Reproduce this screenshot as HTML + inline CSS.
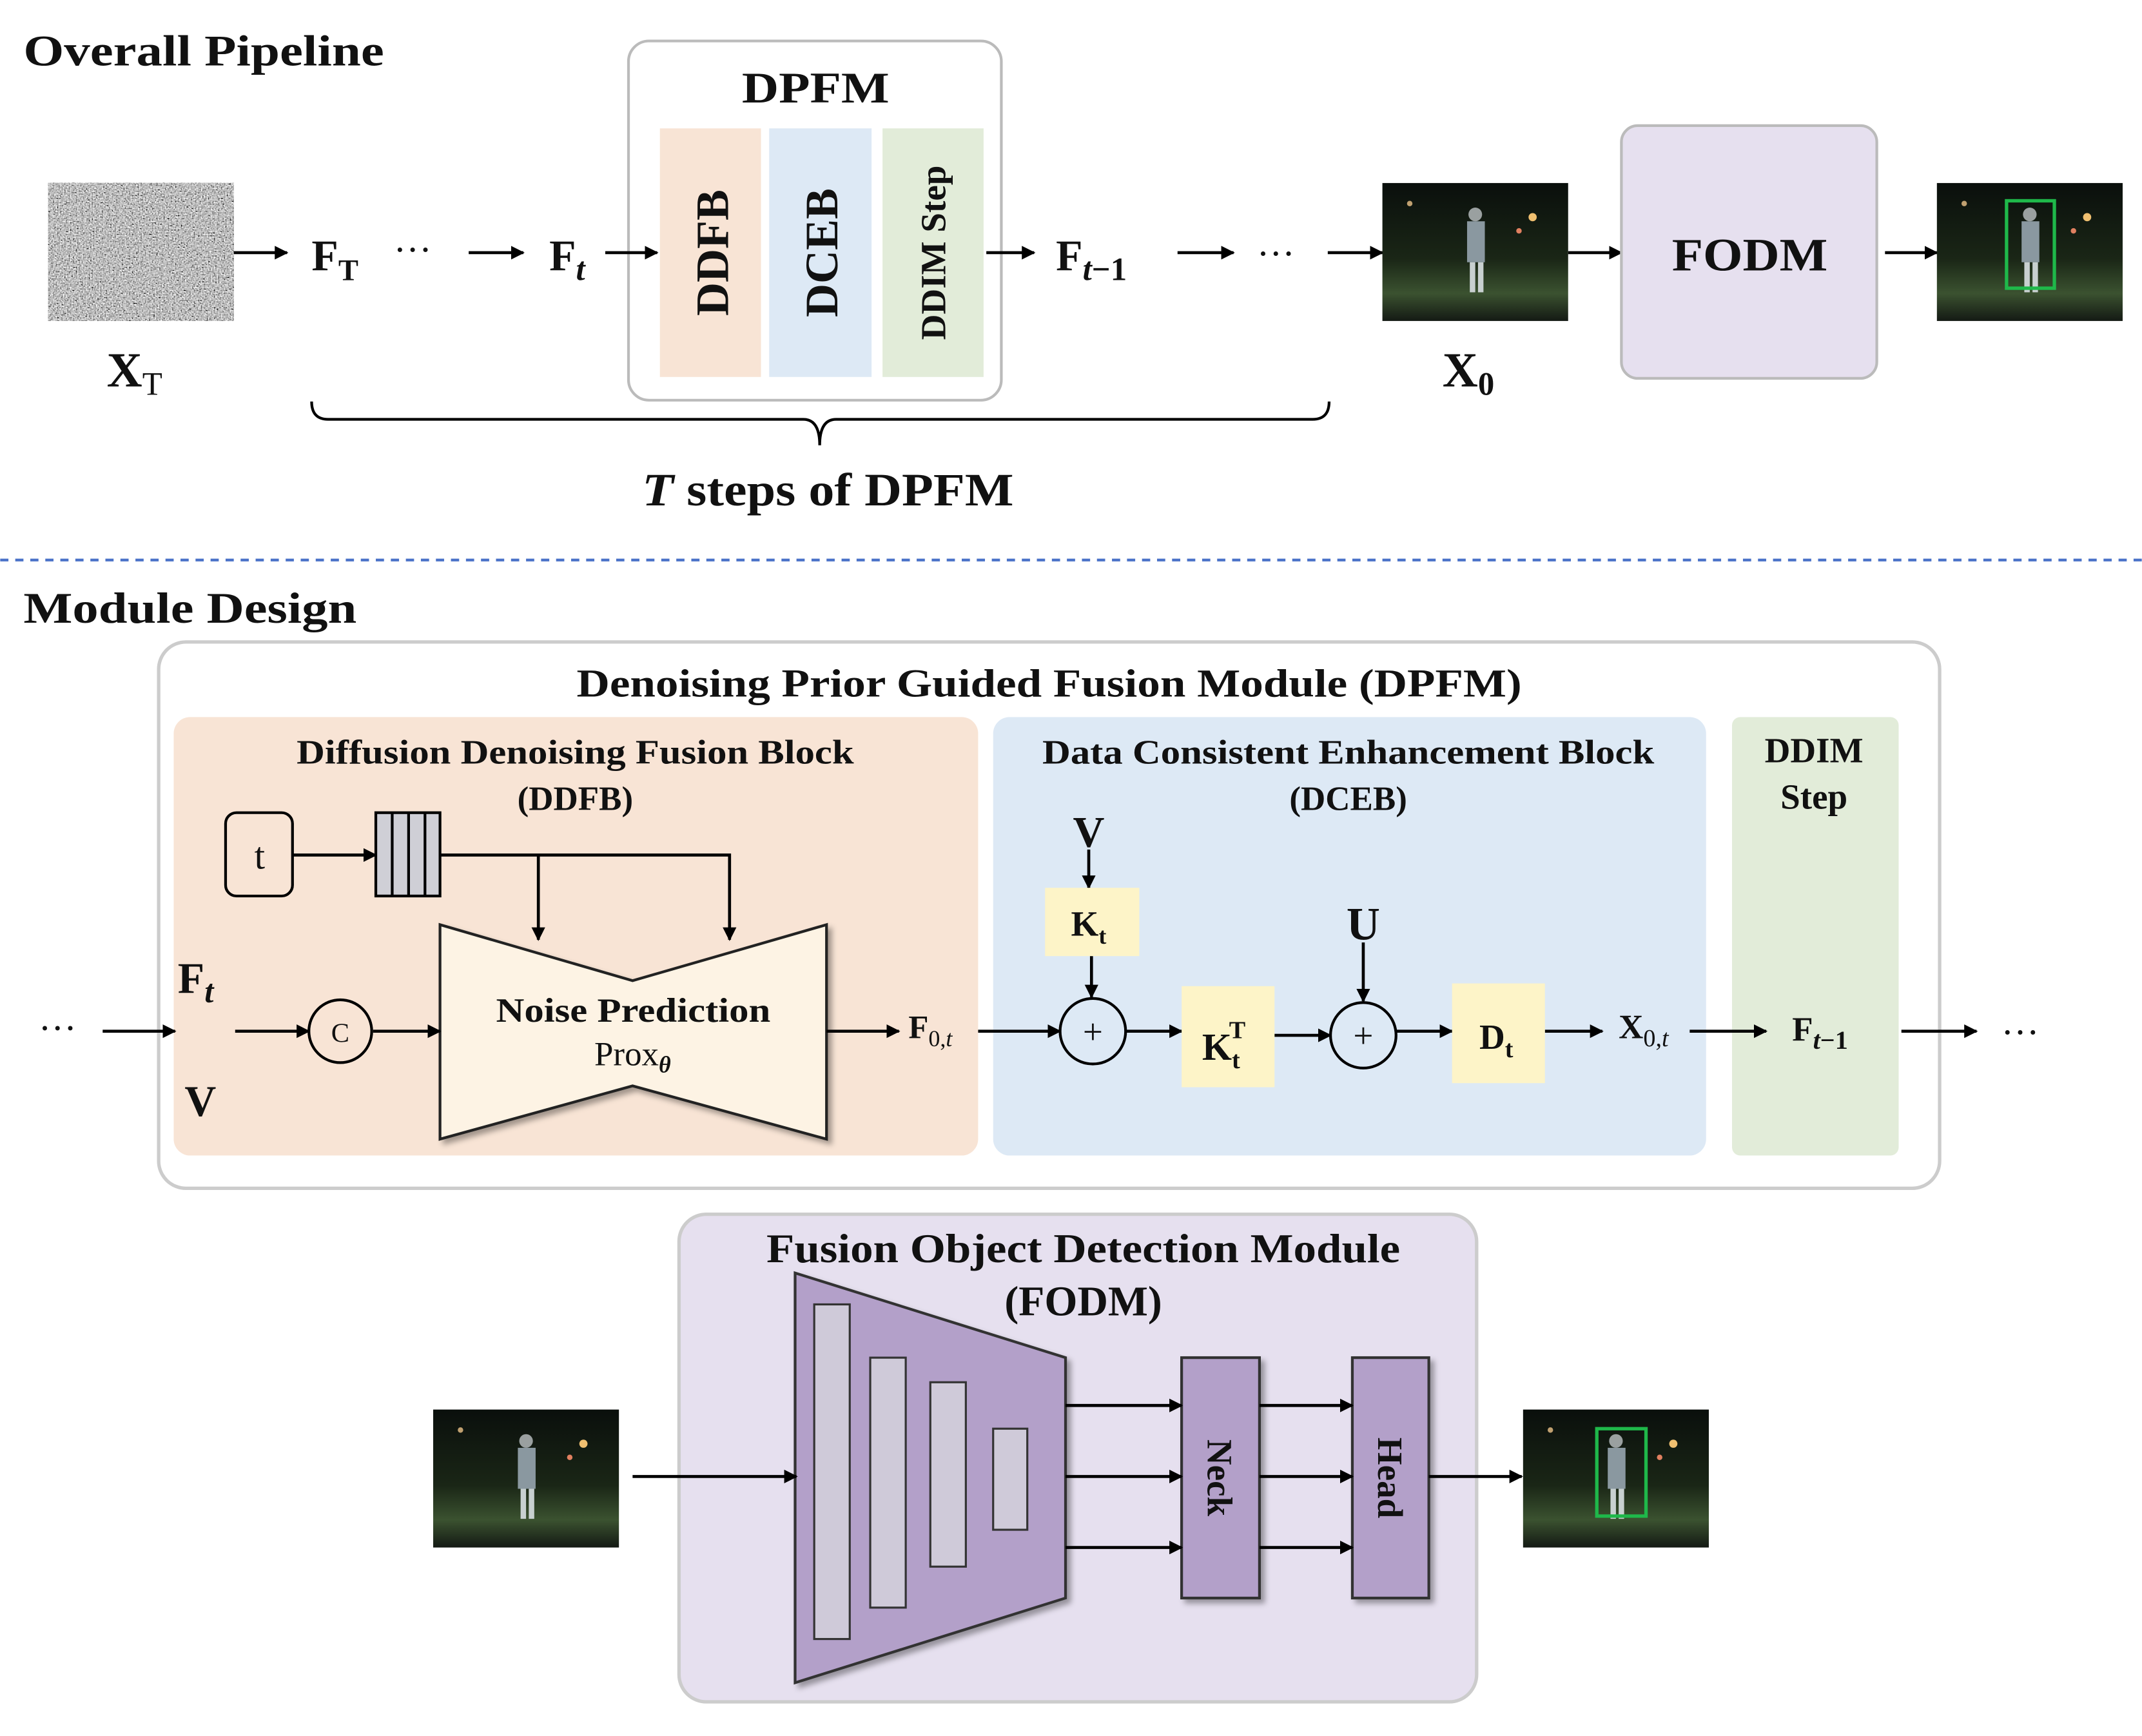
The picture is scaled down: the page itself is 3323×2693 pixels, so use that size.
<!DOCTYPE html>
<html><head><meta charset="utf-8"><style>
html,body{margin:0;padding:0;background:#fff;}
svg{display:block;}
text{font-family:"Liberation Serif",serif;fill:#111;}
.b{font-weight:bold;}
</style></head><body>
<svg width="3323" height="2693" viewBox="0 0 1568 1271" xmlns="http://www.w3.org/2000/svg">
<defs>
<marker id="ar" markerWidth="10" markerHeight="10" refX="9" refY="5" orient="auto" markerUnits="userSpaceOnUse">
<path d="M0,0 L10,5 L0,10 Z" fill="#000"/></marker>
<filter id="noise" x="0" y="0" width="100%" height="100%">
<feTurbulence type="fractalNoise" baseFrequency="0.95" numOctaves="1" seed="3"/>
<feColorMatrix type="matrix" values="0.9 0.9 0.9 0 -0.85 0.9 0.9 0.9 0 -0.85 0.9 0.9 0.9 0 -0.85 0 0 0 0 1"/>
</filter>
<linearGradient id="night" x1="0" y1="0" x2="0" y2="1">
<stop offset="0" stop-color="#0a0f0c"/><stop offset="0.55" stop-color="#1a2616"/><stop offset="0.8" stop-color="#3b5230"/><stop offset="1" stop-color="#141a14"/></linearGradient>
<filter id="sh" x="-10%" y="-10%" width="130%" height="130%"><feDropShadow dx="3" dy="3" stdDeviation="2" flood-color="#000" flood-opacity="0.35"/></filter>
<g id="nimg">
<rect width="136" height="101" fill="url(#night)"/>
<circle cx="110" cy="25" r="3" fill="#f0c070"/><circle cx="20" cy="15" r="2" fill="#c0a070"/><circle cx="100" cy="35" r="2" fill="#e08060"/>
<rect x="62" y="28" width="13" height="30" fill="#8a98a0"/><rect x="64" y="58" width="4" height="22" fill="#c8d0d0"/><rect x="70" y="58" width="4" height="22" fill="#c8d0d0"/>
<circle cx="68" cy="23" r="5" fill="#9aa0a0"/>
</g>
</defs>
<text x="17" y="48" class="b" font-size="32" textLength="264" lengthAdjust="spacingAndGlyphs">Overall Pipeline</text>
<rect x="35" y="134" width="136" height="101" filter="url(#noise)"/>
<text x="78" y="283" class="b" font-size="36">X<tspan font-size="24" font-weight="normal" dy="6">T</tspan></text>
<text x="228" y="198" class="b" font-size="32">F<tspan font-size="22" dy="7">T</tspan></text>
<text x="288" y="192" font-size="28">···</text>
<text x="402" y="198" class="b" font-size="32">F<tspan font-size="24" dy="7" font-style="italic">t</tspan></text>
<rect x="460" y="30" width="273" height="263" rx="15" fill="#fff" stroke="#bbb" stroke-width="2"/>
<text x="543" y="75" class="b" font-size="32" textLength="108" lengthAdjust="spacingAndGlyphs">DPFM</text>
<rect x="483" y="94" width="74" height="182" fill="#f8e4d5"/>
<rect x="563" y="94" width="75" height="182" fill="#dde9f5"/>
<rect x="646" y="94" width="74" height="182" fill="#e2ecd9"/>
<text transform="translate(533,185) rotate(-90)" class="b" font-size="34" text-anchor="middle">DDFB</text>
<text transform="translate(613,185) rotate(-90)" class="b" font-size="34" text-anchor="middle">DCEB</text>
<text transform="translate(692,185) rotate(-90)" class="b" font-size="26" text-anchor="middle">DDIM Step</text>
<g stroke="#000" stroke-width="2.2" fill="none" marker-end="url(#ar)">
<line x1="171" y1="185" x2="210" y2="185"/><line x1="343" y1="185" x2="383" y2="185"/><line x1="443" y1="185" x2="481" y2="185"/>
<line x1="722" y1="185" x2="757" y2="185"/><line x1="862" y1="185" x2="903" y2="185"/><line x1="972" y1="185" x2="1012" y2="185"/>
<line x1="1148" y1="185" x2="1187" y2="185"/><line x1="1380" y1="185" x2="1418" y2="185"/>
</g>
<text x="773" y="198" class="b" font-size="32">F<tspan font-size="24" dy="7" font-style="italic">t</tspan><tspan font-size="24">−1</tspan></text>
<text x="920" y="195" font-size="28">···</text>
<use href="#nimg" x="1012" y="134"/>
<text x="1056" y="283" class="b" font-size="36">X<tspan font-size="24" dy="6">0</tspan></text>
<rect x="1187" y="92" width="187" height="185" rx="12" fill="#e6e0ef" stroke="#bbb" stroke-width="2"/>
<text x="1224" y="198" class="b" font-size="34" textLength="114" lengthAdjust="spacingAndGlyphs">FODM</text>
<use href="#nimg" x="1418" y="134"/>
<rect x="1469" y="147" width="35" height="64" fill="none" stroke="#1fb84a" stroke-width="2.5"/>
<path d="M228,294 Q228,307 240,307 L588,307 Q600,307 600,326 Q600,307 612,307 L961,307 Q973,307 973,294" fill="none" stroke="#000" stroke-width="2"/>
<text x="470" y="370" class="b" font-size="34" textLength="272" lengthAdjust="spacingAndGlyphs"><tspan font-style="italic">T</tspan> steps of DPFM</text>
<line x1="0" y1="410" x2="1568" y2="410" stroke="#4a72c8" stroke-width="2" stroke-dasharray="6,5"/>
<text x="17" y="456" class="b" font-size="32" textLength="244" lengthAdjust="spacingAndGlyphs">Module Design</text>
<rect x="116" y="470" width="1304" height="400" rx="20" fill="#fff" stroke="#ccc" stroke-width="2.5"/>
<text x="422" y="510" class="b" font-size="29" textLength="692" lengthAdjust="spacingAndGlyphs">Denoising Prior Guided Fusion Module (DPFM)</text>
<rect x="127" y="525" width="589" height="321" rx="12" fill="#f8e4d5"/>
<rect x="727" y="525" width="522" height="321" rx="12" fill="#dde9f5"/>
<rect x="1268" y="525" width="122" height="321" rx="6" fill="#e2ecd9"/>
<text x="217" y="559" class="b" font-size="25" textLength="408" lengthAdjust="spacingAndGlyphs">Diffusion Denoising Fusion Block</text>
<text x="421" y="593" class="b" font-size="25" text-anchor="middle">(DDFB)</text>
<text x="763" y="559" class="b" font-size="25" textLength="448" lengthAdjust="spacingAndGlyphs">Data Consistent Enhancement Block</text>
<text x="987" y="593" class="b" font-size="25" text-anchor="middle">(DCEB)</text>
<text x="1328" y="558" class="b" font-size="26" text-anchor="middle">DDIM</text>
<text x="1328" y="592" class="b" font-size="26" text-anchor="middle">Step</text>
<rect x="165" y="595" width="49" height="61" rx="8" fill="none" stroke="#000" stroke-width="2"/>
<text x="190" y="636" font-size="28" text-anchor="middle">t</text>
<rect x="275" y="595" width="47" height="61" fill="#cfcfd6" stroke="#000" stroke-width="2"/>
<g stroke="#000" stroke-width="2"><line x1="287" y1="595" x2="287" y2="656"/><line x1="299" y1="595" x2="299" y2="656"/><line x1="311" y1="595" x2="311" y2="656"/></g>
<polygon points="322,677 463,718 605,677 605,834 463,795 322,834" fill="#fdf3e4" stroke="#222" stroke-width="2" filter="url(#sh)"/>
<text x="363" y="748" class="b" font-size="25" textLength="201" lengthAdjust="spacingAndGlyphs">Noise Prediction</text>
<text x="463" y="780" font-size="25" text-anchor="middle">Prox<tspan font-size="17" dy="5" font-weight="bold" font-style="italic">θ</tspan></text>
<g stroke="#000" stroke-width="2.2" fill="none" marker-end="url(#ar)">
<line x1="214" y1="626" x2="275" y2="626"/>
<polyline points="322,626 394,626 394,688" /><polyline points="394,626 534,626 534,688"/>
<line x1="75" y1="755" x2="128" y2="755"/><line x1="172" y1="755" x2="226" y2="755"/><line x1="273" y1="755" x2="322" y2="755"/>
<line x1="605" y1="755" x2="658" y2="755"/><line x1="716" y1="755" x2="776" y2="755"/>
<line x1="797" y1="622" x2="797" y2="650"/><line x1="799" y1="700" x2="799" y2="730"/>
<line x1="824" y1="755" x2="865" y2="755"/><line x1="933" y1="758" x2="974" y2="758"/>
<line x1="998" y1="690" x2="998" y2="733"/><line x1="1022" y1="755" x2="1063" y2="755"/>
<line x1="1131" y1="755" x2="1173" y2="755"/><line x1="1237" y1="755" x2="1293" y2="755"/>
<line x1="1392" y1="755" x2="1447" y2="755"/>
</g>
<text x="28" y="762" font-size="28">···</text>
<text x="130" y="727" class="b" font-size="32">F<tspan font-size="24" dy="7" font-style="italic">t</tspan></text>
<text x="135" y="817" class="b" font-size="32">V</text>
<circle cx="249" cy="755" r="23" fill="none" stroke="#000" stroke-width="2"/>
<text x="249" y="763" font-size="20" text-anchor="middle">C</text>
<text x="665" y="760" class="b" font-size="24">F<tspan font-size="17" dy="6" font-weight="normal">0,<tspan font-style="italic">t</tspan></tspan></text>
<text x="797" y="620" class="b" font-size="32" text-anchor="middle">V</text>
<rect x="765" y="650" width="69" height="50" fill="#fdf4c8"/>
<text x="784" y="685" class="b" font-size="26">K<tspan font-size="17" dy="6">t</tspan></text>
<circle cx="800" cy="755" r="24" fill="none" stroke="#000" stroke-width="2"/>
<text x="800" y="764" font-size="26" text-anchor="middle">+</text>
<rect x="865" y="722" width="68" height="74" fill="#fdf4c8"/>
<text x="880" y="776" class="b" font-size="28">K<tspan font-size="18" dy="6">t</tspan><tspan font-size="18" dx="-8" dy="-22">T</tspan></text>
<text x="998" y="688" class="b" font-size="34" text-anchor="middle">U</text>
<circle cx="998" cy="758" r="24" fill="none" stroke="#000" stroke-width="2"/>
<text x="998" y="767" font-size="26" text-anchor="middle">+</text>
<rect x="1063" y="720" width="68" height="73" fill="#fdf4c8"/>
<text x="1083" y="768" class="b" font-size="26">D<tspan font-size="18" dy="6">t</tspan></text>
<text x="1185" y="760" class="b" font-size="25">X<tspan font-size="18" dy="6" font-weight="normal">0,<tspan font-style="italic">t</tspan></tspan></text>
<text x="1312" y="762" class="b" font-size="25">F<tspan font-size="19" dy="6" font-style="italic">t</tspan><tspan font-size="19">−1</tspan></text>
<text x="1465" y="765" font-size="28">···</text>
<rect x="497" y="889" width="584" height="357" rx="20" fill="#e6e0ef" stroke="#ccc" stroke-width="2.5"/>
<text x="561" y="924" class="b" font-size="30" textLength="464" lengthAdjust="spacingAndGlyphs">Fusion Object Detection Module</text>
<text x="793" y="963" class="b" font-size="31" text-anchor="middle">(FODM)</text>
<use href="#nimg" x="317" y="1032"/>
<polygon points="582,932 780,994 780,1170 582,1232" fill="#b3a0c9" stroke="#333" stroke-width="2" filter="url(#sh)"/>
<g fill="#cfcad9" stroke="#333" stroke-width="1.5">
<rect x="596" y="955" width="26" height="245"/><rect x="637" y="994" width="26" height="183"/>
<rect x="681" y="1012" width="26" height="135"/><rect x="727" y="1046" width="25" height="74"/></g>
<rect x="865" y="994" width="57" height="176" fill="#b3a0c9" stroke="#333" stroke-width="2" filter="url(#sh)"/>
<rect x="990" y="994" width="56" height="176" fill="#b3a0c9" stroke="#333" stroke-width="2" filter="url(#sh)"/>
<text transform="translate(884,1082) rotate(90)" class="b" font-size="26" text-anchor="middle">Neck</text>
<text transform="translate(1009,1082) rotate(90)" class="b" font-size="26" text-anchor="middle">Head</text>
<g stroke="#000" stroke-width="2.2" fill="none" marker-end="url(#ar)">
<line x1="463" y1="1081" x2="583" y2="1081"/>
<line x1="780" y1="1029" x2="865" y2="1029"/><line x1="780" y1="1081" x2="865" y2="1081"/><line x1="780" y1="1133" x2="865" y2="1133"/>
<line x1="922" y1="1029" x2="990" y2="1029"/><line x1="922" y1="1081" x2="990" y2="1081"/><line x1="922" y1="1133" x2="990" y2="1133"/>
<line x1="1046" y1="1081" x2="1114" y2="1081"/>
</g>
<use href="#nimg" x="1115" y="1032"/>
<rect x="1169" y="1046" width="36" height="64" fill="none" stroke="#1fb84a" stroke-width="2.5"/>
</svg>
</body></html>
